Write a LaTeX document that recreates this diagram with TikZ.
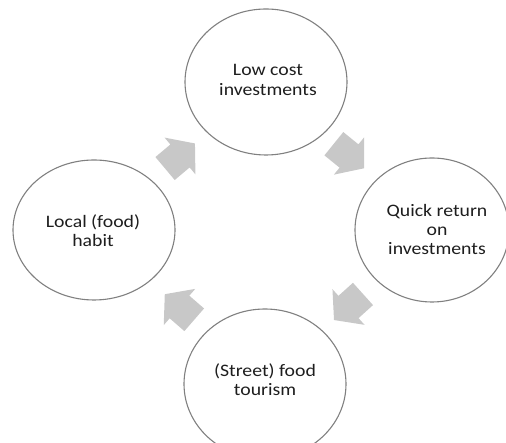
\documentclass[tikz,border=0pt]{standalone}
\usepackage{fontspec}
\newfontfamily\lblfont[FakeStretch=1.13]{Carlito}
\usetikzlibrary{shapes.geometric,calc}
\definecolor{arrowgray}{RGB}{200,200,200}
\definecolor{ringgray}{RGB}{128,128,128}
\definecolor{txtcol}{RGB}{30,30,30}
\tikzset{
  ring/.style={ellipse, draw=ringgray, line width=1.1pt, fill=white, inner sep=0pt},
  lbl/.style={align=center, text=txtcol, inner sep=0pt, font=\lblfont\fontsize{17.5}{19.3}\selectfont},
  cyclearrow/.style={fill=arrowgray, draw=none},
}
\begin{document}
\begin{tikzpicture}[x=1pt,y=1pt]
\useasboundingbox (0,0) rectangle (506,443);
% circles
\node[ring, minimum width=162pt, minimum height=146pt] (top) at (266,361) {};
\node[ring, minimum width=162pt, minimum height=140pt] (left) at (94,213) {};
\node[ring, minimum width=154pt, minimum height=144pt] (right) at (432,213) {};
\node[ring, minimum width=162pt, minimum height=150pt] (bottom) at (265,59) {};
% labels
\node[lbl] (ttop) at (268,363) {Low cost\\investments};
\node[lbl] (tleft) at (93,212.5) {Local (food)\\habit};
\node[lbl] (tright) at (437,213.5) {Quick return\\on\\investments};
\node[lbl] (tbottom) at (265,63) {(Street) food\\tourism};
% block arrows between circles
\foreach \a/\b/\ang in {left/top/40, top/right/-39, right/bottom/222, bottom/left/139}
  \fill[cyclearrow, shift={($(\a)!0.5!(\b)$)}, rotate=\ang]
    (-19.5,-15) -- (0,-15) -- (0,-24) -- (19.5,0) -- (0,24) -- (0,15) -- (-19.5,15) -- cycle;
\end{tikzpicture}
\end{document}
